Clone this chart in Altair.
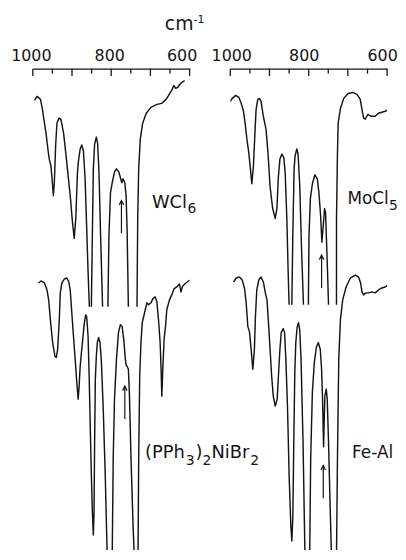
import altair as alt
import pandas as pd

INK = "#141414"
FONT = "DejaVu Sans"

# ---------------- axis (wavenumber, cm-1) ----------------
TICK_MAJOR = [1000, 900, 800, 700, 600]
TICK_MINOR = [950, 850, 750, 650]
TICK_LABELS = [1000, 800, 600]

# ---------------- spectra (wavenumber, transmission in arbitrary units) ----------------
# each inner list is one pen segment: the strong bands run off the chart paper
WCL6_WN = [
    [995.7, 989.1, 980.5, 975.4, 972.2, 966.3, 960.3, 957.7, 953.7, 950.1, 947.6, 945.1, 941.8, 938.5,
     933.4, 928.4, 921.5, 913.2, 904.6, 898.7, 894.4, 890.4, 886.1, 883.5, 879.2, 875.2, 870.9, 866.6,
     862.5, 859.0, 855.7],
    [850.6, 848.1, 845.6, 842.3, 838.0, 834.7, 831.1, 827.1, 822.0],
    [808.4, 805.8, 801.8, 797.5, 791.6, 786.6, 780.5, 776.5, 772.9, 769.6, 765.3, 762.0, 759.5, 756.2],
    [734.2, 732.4, 729.9, 725.8, 719.8, 710.6, 698.7, 683.5, 670.9, 665.8, 658.2, 650.6, 645.6, 640.5,
     635.4, 630.4, 625.3, 620.3, 612.7],
]
WCL6_T = [
    [453, 457, 454, 444, 435, 420, 400, 393, 387, 370, 357, 370, 407, 430, 435, 434, 420, 390, 357, 330,
     314, 334, 380, 392, 404, 408, 402, 374, 324, 280, 245],
    [245, 317, 384, 409, 416, 410, 380, 317, 245],
    [245, 317, 360, 370, 381, 384, 381, 375, 370, 374, 370, 357, 324, 245],
    [245, 334, 384, 414, 430, 440, 446, 449, 450, 452, 455, 460, 463, 468, 465, 466, 469, 471, 473],
]

MOCL5_WN = [
    [1000.0, 994.9, 986.6, 978.0, 972.2, 966.3, 961.3, 957.7, 952.7, 949.4, 945.1, 941.0, 937.5, 934.2,
     929.9, 925.8, 921.5, 915.7, 908.9, 903.8, 898.7, 891.9, 885.3, 881.0, 877.7, 873.4, 868.4, 863.3,
     860.0, 855.7, 852.4, 849.9],
    [843.0, 840.5, 837.2, 834.7, 830.4, 827.1, 822.8, 818.5, 813.4],
    [800.8, 799.2, 795.7, 790.6, 784.1, 778.0, 773.9, 769.6, 766.3, 762.8, 759.5, 757.0, 754.4, 751.9, 749.4],
    [729.1, 729.0, 726.6, 724.8, 719.0, 710.6, 699.5, 687.8, 676.7, 668.4, 664.1, 660.0, 655.7, 648.9,
     640.5, 630.4, 622.0, 613.4, 605.1, 596.7],
]
MOCL5_T = [
    [452, 455, 458, 456, 450, 442, 427, 414, 400, 387, 369, 387, 417, 444, 454, 455, 452, 437, 424, 400,
     367, 344, 334, 344, 374, 394, 399, 395, 380, 334, 280, 247],
    [247, 317, 384, 397, 404, 399, 367, 307, 247],
    [247, 317, 354, 369, 378, 374, 360, 337, 310, 327, 344, 340, 310, 280, 247],
    [247, 334, 400, 430, 445, 455, 460, 461, 459, 454, 444, 435, 434, 439, 437, 437, 440, 441, 442, 444],
]

NIBR_WN = [
    [985.6, 979.0, 970.4, 963.8, 959.5, 955.2, 949.4, 943.5, 940.0, 936.7, 932.4, 929.9, 925.8, 919.7,
     913.2, 908.1, 904.6, 900.5, 896.2, 891.9, 887.8, 884.3, 881.8, 879.2, 875.9, 873.4, 869.1, 865.1,
     862.5, 859.0, 856.5, 853.9, 850.6, 848.1, 845.6, 843.8, 842.3, 840.5, 838.0, 835.4, 832.2, 828.6,
     825.3, 820.3, 815.2, 810.1],
    [797.5, 794.9, 791.6, 786.6, 781.5, 776.5, 772.2, 767.9, 764.6, 762.0, 759.5, 756.2, 753.7, 749.4,
     744.3, 741.0],
    [731.6, 729.9, 727.3, 724.1, 720.8, 717.2, 713.2, 708.9, 704.6, 698.7, 693.7, 687.8, 683.5, 679.3,
     675.2, 672.7, 670.9, 668.4, 665.1, 661.5, 658.2, 651.4, 645.6, 639.8, 632.9, 626.1, 622.0, 617.7,
     609.4, 599.3],
]
NIBR_T = [
    [269, 271, 269, 262, 252, 232, 209, 195, 194, 202, 232, 259, 269, 273, 274, 270, 262, 239, 215, 192,
     169, 152, 165, 185, 199, 209, 227, 237, 235, 215, 179, 132, 75, 39, 15, 39, 109, 172, 195, 209, 214,
     209, 192, 142, 75, -8],
    [-8, 92, 152, 192, 219, 227, 225, 212, 195, 186, 185, 182, 159, 92, 25, -8],
    [-8, 92, 175, 209, 229, 235, 242, 249, 247, 249, 253, 255, 250, 232, 209, 182, 155, 182, 212, 225,
     242, 252, 257, 263, 265, 268, 260, 266, 269, 272],
]

FEAL_WN = [
    [991.6, 984.8, 976.5, 969.6, 963.8, 959.5, 955.2, 951.1, 946.8, 942.5, 938.5, 935.9, 932.4, 927.3,
     921.5, 915.7, 910.6, 906.3, 902.0, 898.0, 894.4, 890.4, 885.3, 880.3, 876.7, 873.4, 870.1, 865.1,
     861.5, 858.2, 853.9, 849.9, 845.6, 843.0, 840.5, 838.0, 835.4, 832.9, 829.6, 826.1, 822.8, 819.5,
     814.4, 809.4],
    [797.5, 794.9, 790.6, 785.6, 780.5, 775.4, 770.4, 767.1, 764.6, 762.8, 762.0, 760.3, 758.7, 755.2,
     752.7, 749.4, 745.1, 741.8],
    [729.1, 726.6, 723.3, 719.0, 713.2, 704.6, 693.7, 681.0, 672.7, 667.6, 664.1, 660.0, 653.9, 647.3,
     638.7, 630.4, 622.0, 613.4, 605.1, 592.4],
]
FEAL_T = [
    [270, 274, 275, 272, 264, 249, 225, 220, 202, 182, 202, 235, 262, 272, 275, 270, 259, 252, 225, 199,
     175, 155, 145, 152, 179, 202, 219, 223, 219, 192, 142, 75, 25, 9, 32, 109, 179, 209, 224, 229, 222,
     192, 109, -8],
    [-8, 92, 159, 189, 204, 209, 202, 182, 152, 119, 104, 132, 155, 162, 152, 109, 42, -8],
    [-8, 92, 192, 232, 252, 265, 274, 277, 275, 269, 260, 257, 259, 259, 260, 259, 262, 264, 265, 268],
]

SPECTRA = ["WCl6", "MoCl5", "(PPh3)2NiBr2", "Fe-Al"]
SPECTRA_WN = [WCL6_WN, MOCL5_WN, NIBR_WN, FEAL_WN]
SPECTRA_T = [WCL6_T, MOCL5_T, NIBR_T, FEAL_T]

# arrows marking the band of interest
ARROW_WN = [773.9, 767.1, 765.3, 762.8]
ARROW_HEAD = [352, 297, 165, 85]
ARROW_TAIL = [319, 264, 132, 52]

# sample labels (anchor = left end of baseline)
LABEL_WN = [696.2, 701.3, 713.9, 689.4]
LABEL_T = [345, 349, 93, 93]
LABEL_PARTS = [
    [("WCl", 0, 0, 18), ("6", 36, 5, 14)],
    [("MoCl", 0, 0, 17), ("5", 42, 6, 14)],
    [("(PPh", 0, 0, 18), ("3", 41, 7, 14), (")", 51, 0, 18), ("2", 58, 7, 14), ("NiBr", 67, 0, 18),
     ("2", 106, 7, 14)],
    [("Fe-Al", 0, 0, 17)],
]

UNIT_WN = 663.3
UNIT_T = 524

PANELS = [["WCl6", "(PPh3)2NiBr2"], ["MoCl5", "Fe-Al"]]

# ---------------- build tables ----------------
rows = []
for name, wsegs, tsegs in zip(SPECTRA, SPECTRA_WN, SPECTRA_T):
    for s, (ws, ts) in enumerate(zip(wsegs, tsegs)):
        for i, (w, t) in enumerate(zip(ws, ts)):
            rows.append({"spectrum": name, "seg": f"{name}-{s}", "i": i, "wn": w, "T": t})
traces = pd.DataFrame(rows)

arrows = pd.DataFrame({"spectrum": SPECTRA, "wn": ARROW_WN, "T": ARROW_HEAD, "T2": ARROW_TAIL})

xs = alt.Scale(domain=[600, 1000], reverse=True, nice=False, zero=False)
ys = alt.Scale(domain=[0, 485], nice=False, zero=False)
Y = alt.Y("T:Q", scale=ys, axis=None)


def make_axis(offset):
    return alt.Axis(
        orient="top", values=TICK_LABELS, format="d", ticks=False, tickSize=0, grid=False,
        domain=True, domainColor=INK, domainWidth=1.3,
        labelFont=FONT, labelFontSize=16, labelColor=INK, labelPadding=8,
        labelBaseline="alphabetic", labelFlush=False, labelOverlap=False,
        labelOffset=offset, title=None,
    )


def panel(names, axis, with_unit):
    X = alt.X("wn:Q", scale=xs, axis=axis)
    layers = []
    layers.append(
        alt.Chart(pd.DataFrame({"wn": TICK_MAJOR})).mark_rule(color=INK, strokeWidth=1.3)
        .encode(x=X, y=alt.value(0), y2=alt.value(7.5))
    )
    layers.append(
        alt.Chart(pd.DataFrame({"wn": TICK_MINOR})).mark_rule(color=INK, strokeWidth=1.3)
        .encode(x=X, y=alt.value(0), y2=alt.value(5))
    )
    tr = traces[traces.spectrum.isin(names)]
    layers.append(
        alt.Chart(tr).mark_line(clip=True, color=INK, strokeWidth=1.45, strokeJoin="round")
        .encode(x=X, y=Y, detail="seg:N", order="i:Q")
    )
    ar = arrows[arrows.spectrum.isin(names)]
    layers.append(
        alt.Chart(ar).mark_rule(color=INK, strokeWidth=1.2).encode(x=X, y=Y, y2="T2:Q")
    )
    layers.append(
        alt.Chart(ar).mark_point(shape="M-1,2L0,0L1,2", filled=False, size=20, strokeWidth=1.2,
                                 color=INK, opacity=1).encode(x=X, y=Y)
    )
    for name, lw, lt, parts in zip(SPECTRA, LABEL_WN, LABEL_T, LABEL_PARTS):
        if name not in names:
            continue
        anchor = pd.DataFrame({"wn": [lw], "T": [lt]})
        for text, dx, dy, fs in parts:
            layers.append(
                alt.Chart(anchor).mark_text(text=text, align="left", baseline="alphabetic", dx=dx, dy=dy,
                                            fontSize=fs, font=FONT, color=INK)
                .encode(x=X, y=Y)
            )
    if with_unit:
        anchor = pd.DataFrame({"wn": [UNIT_WN], "T": [UNIT_T]})
        layers.append(
            alt.Chart(anchor).mark_text(text="cm", align="left", baseline="alphabetic", fontSize=19,
                                        font=FONT, color=INK).encode(x=X, y=Y)
        )
        layers.append(
            alt.Chart(anchor).mark_text(text="-1", align="left", baseline="alphabetic", dx=29, dy=-7,
                                        fontSize=11, font=FONT, color=INK).encode(x=X, y=Y)
        )
    return alt.layer(*layers).properties(width=158, height=485)


left = panel(PANELS[0], make_axis({"condition": {"test": "datum.value == 600", "value": -8}, "value": -2}), True)
right = panel(PANELS[1], make_axis({"condition": {"test": "datum.value == 1000", "value": 1}, "value": -5}), False)

chart = (
    alt.hconcat(left, right, spacing=41, bounds="flush")
    .properties(padding={"left": 2, "top": 4, "right": 0, "bottom": 0}, background="white")
    .configure_view(strokeWidth=0)
)

chart.save("out.html", embed_options={"renderer": "svg", "actions": False})
